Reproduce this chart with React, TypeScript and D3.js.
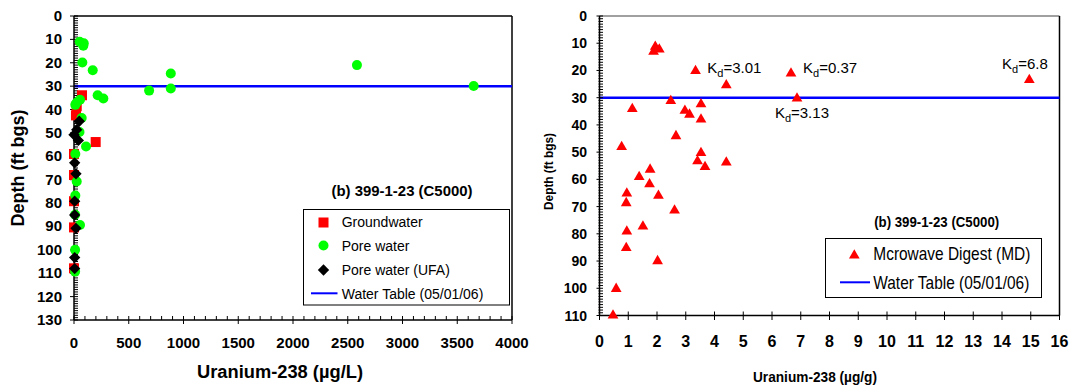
import React from "react";
import * as d3 from "d3";

// ---------- Data ----------
// Left panel: Uranium-238 (µg/L) vs depth (ft bgs)
const groundwater: [number, number][] = [
  [73, 33.9], [25, 38.6], [18, 42.5], [198, 53.9], [0, 59], [0, 68], [0, 79.2], [0, 90.4], [0, 107.9],
];
const poreWater: [number, number][] = [
  [52, 11], [89, 11.7], [85, 12.7], [76, 19.9], [171, 23.2], [686, 31.9], [884, 24.6], [884, 31],
  [2584, 21], [3650, 29.9], [216, 33.9], [268, 35.3], [55, 35.8], [25, 37], [12, 38], [70, 43.6],
  [50, 49.6], [110, 55.8], [12, 59], [25, 70.8], [12, 76.8], [55, 89.4], [10, 100], [10, 109.3], [10, 85],
];
const poreWaterUFA: [number, number][] = [
  [48, 45], [25, 48.6], [0, 50.8], [40, 53.2], [6, 62.8], [18, 67.5], [6, 79.2], [6, 85.1], [18, 90.8],
  [6, 103.3], [6, 108],
];
const waterTableDepth = 30;

// Right panel: Uranium-238 (µg/g) microwave digest vs depth
const microwaveDigest: [number, number][] = [
  [1.94, 11.3], [1.88, 13.1], [2.08, 12.3], [3.34, 20.2], [4.41, 25.4], [2.48, 31.2], [3.53, 32.4],
  [1.14, 34.1], [2.97, 34.8], [3.13, 36.2], [3.53, 38.0], [2.66, 44.1], [0.77, 48.1], [3.53, 50.3],
  [3.41, 53.3], [3.67, 55.4], [4.41, 53.8], [1.76, 56.4], [1.38, 59.1], [1.74, 61.8], [0.95, 65.2],
  [2.05, 66.0], [0.93, 68.7], [2.61, 71.4], [1.51, 77.3], [0.95, 79.1], [0.93, 85.2], [2.02, 90.0],
  [0.58, 100.2], [0.47, 110], [6.66, 21.1], [6.87, 30.3], [14.95, 23.5],
];
// Kd annotations: label value, anchor x (µg/g), anchor depth
const kdLabels: { v: string; x: number; d: number }[] = [
  { v: "3.01", x: 3.75, d: 21 },
  { v: "0.37", x: 7.08, d: 21 },
  { v: "3.13", x: 6.1, d: 37.5 },
  { v: "6.8", x: 14.0, d: 19.5 },
];

const leftXTicks = d3.range(0, 4001, 500);
const leftYTicks = d3.range(0, 131, 10);
const rightXTicks = d3.range(0, 17, 1);
const rightYTicks = d3.range(0, 111, 10);

const FONT = "'Liberation Sans', Arial, Helvetica, sans-serif";

export default function App() {
  const lx = d3.scaleLinear().domain([0, 4000]).range([74, 512]);
  const ly = d3.scaleLinear().domain([0, 130]).range([16, 320]);
  const rx = d3.scaleLinear().domain([0, 16]).range([599.5, 1059.5]);
  const ry = d3.scaleLinear().domain([0, 110]).range([16, 315.5]);

  const tri = d3.symbol().type(d3.symbolTriangle).size(50)() as string;
  const diamond = d3.symbol().type(d3.symbolSquare).size(64)() as string;

  const lMinorY = d3.range(0, 131, 1);
  const lMinorX = d3.range(0, 4001, 100);
  const rMinorY = d3.range(0, 111, 1);

  return (
    <svg width={1070} height={385} style={{ position: "absolute", left: 0, top: 0, background: "#fff" }} fontFamily={FONT}>
      <rect x={0} y={0} width={1070} height={385} fill="#fff" />
      {/* ================= LEFT PANEL ================= */}
      <g>
        <line x1={lx(0)} x2={lx(4000)} y1={ly(0)} y2={ly(0)} stroke="#000" strokeWidth={1.5} />
        <line x1={lx(4000)} x2={lx(4000)} y1={ly(0)} y2={ly(130)} stroke="#000" strokeWidth={1.5} />
        <line x1={lx(0)} x2={lx(4000)} y1={ly(waterTableDepth)} y2={ly(waterTableDepth)} stroke="#0000ff" strokeWidth={2.5} />
        <line x1={lx(0)} x2={lx(0)} y1={ly(0)} y2={ly(130)} stroke="#000" strokeWidth={1.5} />
        <line x1={lx(0)} x2={lx(4000)} y1={ly(130)} y2={ly(130)} stroke="#000" strokeWidth={1.5} />
        {lMinorY.map((d) => (
          <line key={"lmy" + d} x1={lx(0) - (d % 10 === 0 ? 4 : 0)} x2={lx(0) + 4} y1={ly(d)} y2={ly(d)} stroke="#000" strokeWidth={1} />
        ))}
        {lMinorX.map((v) => (
          <line key={"lmx" + v} x1={lx(v)} x2={lx(v)} y1={ly(130) - 4} y2={ly(130) + (v % 500 === 0 ? 4 : 0)} stroke="#000" strokeWidth={1} />
        ))}
        {leftYTicks.map((d) => (
          <text key={"lyt" + d} x={62} y={ly(d) + 5} textAnchor="end" fontSize={15} fontWeight="bold">{d}</text>
        ))}
        {leftXTicks.map((v) => (
          <text key={"lxt" + v} x={lx(v)} y={347.5} textAnchor="middle" fontSize={15} fontWeight="bold">{v}</text>
        ))}
        <text x={280} y={378} textAnchor="middle" fontSize={18} fontWeight="bold" textLength={166} lengthAdjust="spacingAndGlyphs">Uranium-238 (µg/L)</text>
        <text transform={`translate(24,168) rotate(-90)`} textAnchor="middle" fontSize={18} fontWeight="bold" textLength={117} lengthAdjust="spacingAndGlyphs">Depth (ft bgs)</text>

        {groundwater.map(([v, d], i) => (
          <rect key={"gw" + i} x={lx(v) - 5} y={ly(d) - 5} width={10} height={10} fill="#ff0000" />
        ))}
        {poreWater.map(([v, d], i) => (
          <circle key={"pw" + i} cx={lx(v)} cy={ly(d)} r={5} fill="#00ff00" />
        ))}
        {poreWaterUFA.map(([v, d], i) => (
          <path key={"uf" + i} d={diamond} transform={`translate(${lx(v)},${ly(d)}) rotate(45)`} fill="#000" />
        ))}

        <text x={402} y={196} textAnchor="middle" fontSize={14.5} fontWeight="bold" textLength={141} lengthAdjust="spacingAndGlyphs">(b) 399-1-23 (C5000)</text>
        <rect x={303.5} y={209.5} width={206} height={95.5} fill="#fff" stroke="#000" strokeWidth={1} />
        <rect x={318.5} y={217.5} width={10} height={10} fill="#ff0000" />
        <text x={341.7} y={227} fontSize={14}>Groundwater</text>
        <circle cx={323.5} cy={245.5} r={5} fill="#00ff00" />
        <text x={341.7} y={250.5} fontSize={14}>Pore water</text>
        <path d={diamond} transform="translate(323.5,270) rotate(45)" fill="#000" />
        <text x={341.7} y={275} fontSize={14}>Pore water (UFA)</text>
        <line x1={311} x2={337.5} y1={293.3} y2={293.3} stroke="#0000ff" strokeWidth={2} />
        <text x={341.7} y={298.5} fontSize={14}>Water Table (05/01/06)</text>
      </g>

      {/* ================= RIGHT PANEL ================= */}
      <g>
        <line x1={rx(0)} x2={rx(16)} y1={ry(0)} y2={ry(0)} stroke="#808080" strokeWidth={1.5} />
        <line x1={rx(16)} x2={rx(16)} y1={ry(0)} y2={ry(110)} stroke="#000" strokeWidth={1.5} />
        <line x1={rx(0)} x2={rx(16)} y1={ry(waterTableDepth)} y2={ry(waterTableDepth)} stroke="#0000ff" strokeWidth={2.5} />
        <line x1={rx(0)} x2={rx(0)} y1={ry(0)} y2={ry(110)} stroke="#000" strokeWidth={1.5} />
        <line x1={rx(0)} x2={rx(16)} y1={ry(110)} y2={ry(110)} stroke="#000" strokeWidth={1.5} />
        {rMinorY.map((d) => (
          <line key={"rmy" + d} x1={rx(0) - (d % 10 === 0 ? 3 : 1)} x2={rx(0) + 3.5} y1={ry(d)} y2={ry(d)} stroke="#000" strokeWidth={1} />
        ))}
        {rightXTicks.map((v) => (
          <line key={"rxt" + v} x1={rx(v)} x2={rx(v)} y1={ry(110) - 4} y2={ry(110) + 4.5} stroke="#000" strokeWidth={1} />
        ))}
        {rightYTicks.map((d) => (
          <text key={"ryl" + d} x={587} y={ry(d) + 5} textAnchor="end" fontSize={14} fontWeight="bold">{d}</text>
        ))}
        {rightXTicks.map((v) => (
          <text key={"rxl" + v} x={rx(v)} y={347} textAnchor="middle" fontSize={16} fontWeight="bold">{v}</text>
        ))}
        <text x={815} y={382} textAnchor="middle" fontSize={14} fontWeight="bold" textLength={124} lengthAdjust="spacingAndGlyphs">Uranium-238 (µg/g)</text>
        <text transform={`translate(553,171.5) rotate(-90)`} textAnchor="middle" fontSize={12.5} fontWeight={600} textLength={77} lengthAdjust="spacingAndGlyphs">Depth (ft bgs)</text>

        {microwaveDigest.map(([v, d], i) => (
          <path key={"md" + i} d={tri} transform={`translate(${rx(v)},${ry(d)})`} fill="#ff0000" />
        ))}
        {kdLabels.map((k, i) => (
          <text key={"kd" + i} x={rx(k.x)} y={ry(k.d)} fontSize={15}>
            K<tspan fontSize={11} dy={4}>d</tspan><tspan dy={-4}>={k.v}</tspan>
          </text>
        ))}

        <text x={936.7} y={226.5} textAnchor="middle" fontSize={14} fontWeight="bold" textLength={125} lengthAdjust="spacingAndGlyphs">(b) 399-1-23 (C5000)</text>
        <rect x={825.5} y={238.5} width={216} height={59} fill="#fff" stroke="#000" strokeWidth={1} />
        <path d={tri} transform="translate(854.3,255.5)" fill="#ff0000" />
        <text x={873.3} y={260.3} fontSize={19} textLength={157} lengthAdjust="spacingAndGlyphs">Mcrowave Digest (MD)</text>
        <line x1={840} x2={870} y1={282.3} y2={282.3} stroke="#0000ff" strokeWidth={2} />
        <text x={873.3} y={288.5} fontSize={19} textLength={156} lengthAdjust="spacingAndGlyphs">Water Table (05/01/06)</text>
      </g>
    </svg>
  );
}
